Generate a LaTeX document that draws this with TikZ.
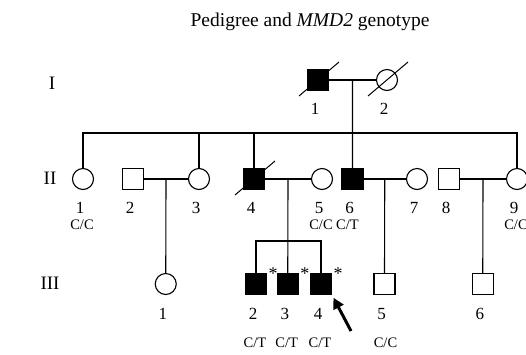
\documentclass[tikz,border=0pt]{standalone}
\usepackage{fontspec}
\setmainfont{Liberation Serif}
\usetikzlibrary{arrows.meta, positioning, calc}
\tikzset{
  person/.style={draw, line width=1.1pt, minimum size=21pt, inner sep=0pt},
  male/.style={person, rectangle},
  female/.style={person, circle},
  affected/.style={fill=black},
  link/.style={line width=1.1pt},
  slash/.style={line width=1pt},
  idlab/.style={font=\fontsize{17}{20}\selectfont, inner sep=0pt, xshift=-3pt},
  geno/.style={font=\fontsize{14.5}{17}\selectfont, inner sep=0pt, xshift=-1pt},
  genlab/.style={font=\fontsize{19}{22}\selectfont, inner sep=0pt},
  starmark/.style={font=\fontsize{18}{20}\selectfont, inner sep=0pt},
  proband/.style={-{Triangle[length=11pt, width=11pt]}, line width=3pt}
}
\newcommand{\deceased}[1]{\draw[slash] ($(#1.center)+(-19,16)$) -- ($(#1.center)+(21,-18)$);}

\begin{document}
\begin{tikzpicture}[x=1pt, y=-1pt]
\useasboundingbox (0,0) rectangle (526,354);

% Title and generation numbers
\node[font=\fontsize{19.5}{23}\selectfont] (title) at (310,22) {Pedigree and \textit{MMD2} genotype};
\node[genlab] (genI)   at (52,83)  {I};
\node[genlab] (genII)  at (50,178) {II};
\node[genlab] (genIII) at (50,283) {III};

% Generation I
\node[male, affected] (I1) at (318,80) {};
\node[female] (I2) at (387,80) {};
\deceased{I1}
\deceased{I2}
\node[idlab, below=12pt of I1] (I1n) {1};
\node[idlab, below=12pt of I2] (I2n) {2};

% Generation II
\node[female] (II1) at (83,179) {};
\node[male] (II2) at (133,179) {};
\node[female] (II3) at (199,179) {};
\node[male, affected] (II4) at (254,179) {};
\node[female] (II5) at (322,179) {};
\node[male, affected] (II6) at (352.5,179) {};
\node[female] (II7) at (417,179) {};
\node[male] (II8) at (449,179) {};
\node[female] (II9) at (517,179) {};
\deceased{II4}

\foreach \n/\t in {II1/1, II2/2, II3/3, II4/4, II5/5, II6/6, II7/7, II8/8, II9/9}
  \node[idlab, below=12pt of \n] (\n n) {\t};
\node[geno, below=29.5pt of II1] (II1g) {C/C};
\node[geno, below=29.5pt of II5] (II5g) {C/C};
\node[geno, below=29.5pt of II6, xshift=-4pt] (II6g) {C/T};
\node[geno, below=29.5pt of II9] (II9g) {C/C};

% Generation III
\node[female] (III1) at (165.75,284) {};
\node[male, affected] (III2) at (256,284) {};
\node[male, affected] (III3) at (287.75,284) {};
\node[male, affected] (III4) at (321,284) {};
\node[male] (III5) at (384.5,284) {};
\node[male] (III6) at (482.75,284) {};

\foreach \n/\t in {III1/1, III2/2, III3/3, III4/4, III5/5, III6/6}
  \node[idlab, below=13pt of \n] (\n n) {\t};
\foreach \n in {III2, III3, III4}
  \node[geno, below=43pt of \n] (\n g) {C/T};
\node[geno, below=43pt of III5, xshift=2pt] (III5g) {C/C};

\foreach \n in {III2, III3, III4}
  \node[starmark] (\n s) at ($(\n)+(17,-10)$) {*};

% Couples and descent lines
\draw[link] (I1) -- (I2);
\coordinate (mI) at ($(I1.east)!0.5!(I2.west)$);
\coordinate (sibII) at (352,133);
\draw[link] (mI) -- (II6.north);
\draw[link] (II1.north) |- (sibII) -| (II9.north);
\draw[link] (II3.north) -- (II3.north |- sibII);
\draw[link] (II4.north) -- (II4.north |- sibII);

\draw[link] (II2) -- (II3);
\coordinate (mII23) at ($(II2.east)!0.5!(II3.west)$);
\draw[link] (mII23) -- (III1.north);

\draw[link] (II4) -- (II5);
\coordinate (mII45) at ($(II4.east)!0.5!(II5.west)$);
\coordinate (sibIII) at (287.75,241);
\draw[link] (mII45) -- (III3.north);
\draw[link] (III2.north) |- (sibIII) -| (III4.north);

\draw[link] (II6) -- (II7);
\coordinate (mII67) at ($(II6.east)!0.5!(II7.west)$);
\draw[link] (mII67) -- (III5.north);

\draw[link] (II8) -- (II9);
\coordinate (mII89) at ($(II8.east)!0.5!(II9.west)$);
\draw[link] (mII89) -- (III6.north);

% Proband
\coordinate (arrtail) at (351,331);
\draw[proband, shorten >=3pt] (arrtail) -- (III4.south east);

\end{tikzpicture}
\end{document}
